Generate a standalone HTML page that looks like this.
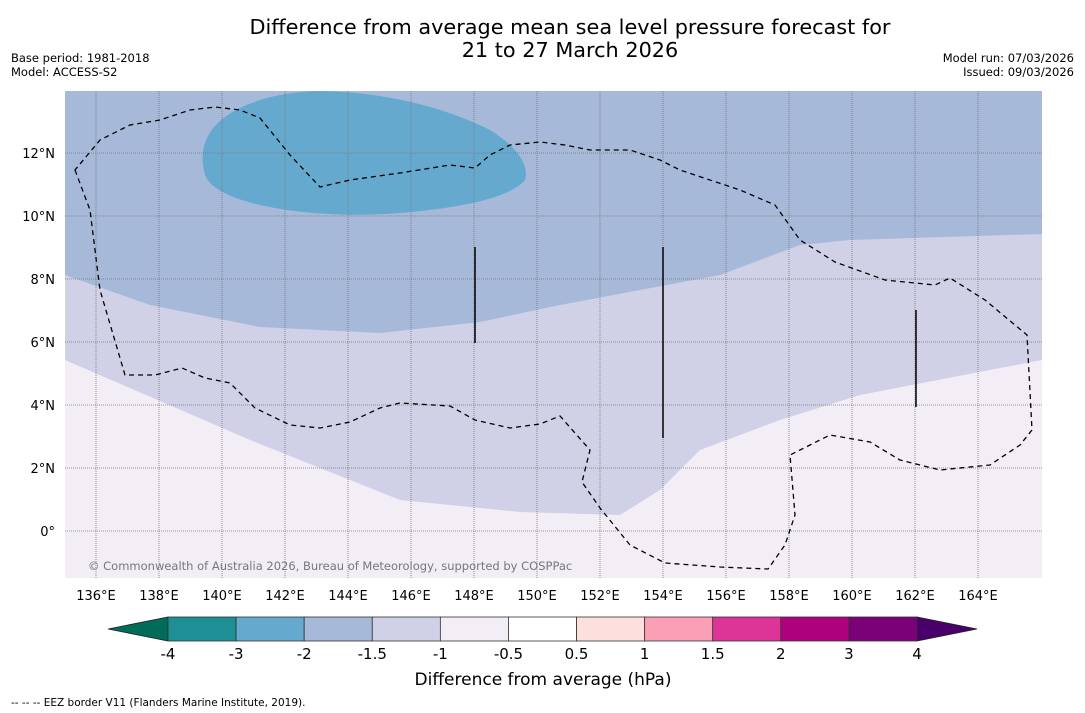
<!DOCTYPE html>
<html><head><meta charset="utf-8"><style>
body{margin:0;background:#fff;width:1085px;height:713px;overflow:hidden;font-family:"DejaVu Sans","Liberation Sans",sans-serif;}
svg{position:absolute;left:0;top:0}
</style></head><body>
<svg id="s" width="1085" height="713">
<text x="570" y="34" font-size="20.8" text-anchor="middle">Difference from average mean sea level pressure forecast for</text>
<text x="570" y="57" font-size="20.8" text-anchor="middle">21 to 27 March 2026</text>
<text x="11" y="62" font-size="11.5">Base period: 1981-2018</text>
<text x="11" y="76" font-size="11.5">Model: ACCESS-S2</text>
<text x="1074" y="62" font-size="11.5" text-anchor="end">Model run: 07/03/2026</text>
<text x="1074" y="76" font-size="11.5" text-anchor="end">Issued: 09/03/2026</text>
<defs><clipPath id="mc"><rect x="65" y="91" width="977" height="487"/></clipPath></defs>
<g clip-path="url(#mc)" id="map">
<rect x="65" y="91" width="977" height="487" fill="#f3eef6"/>
<path d="M40,355 L65,360 L250,440 L400,500 L520,512 L620,515 L660,490 L700,450 L780,420 L860,395 L1042,360 L1060,360 L1060,80 L40,80Z" fill="#d0d1e6"/>
<path d="M40,270 L65,275 L150,305 L260,327 L380,333 L480,322 L560,305 L640,290 L720,275 L800,245 L850,240 L1042,234 L1060,234 L1060,80 L40,80Z" fill="#a6b9d9"/>
<path d="M205,175 C198,150 205,125 240,108 C265,96 290,92 320,91 C380,92 440,105 490,130 C515,145 530,165 525,180 C510,198 460,208 400,213 C350,217 300,214 260,205 C230,198 210,188 205,175Z" fill="#65a9cf"/>
<g id="grid"></g>
<path d="M75,170 L90,210 L100,290 L125,375 L155,375 L182,368 L205,378 L230,383 L255,408 L290,425 L320,428 L350,422 L380,408 L400,403 L450,406 L475,420 L510,428 L540,424 L560,416 L590,450 L582,482 L600,508 L630,545 L665,563 L720,567 L768,569 L785,545 L795,515 L790,455 L830,435 L870,442 L900,460 L940,470 L990,465 L1020,445 L1032,430 L1027,335 L985,300 L950,278 L935,285 L885,280 L835,262 L800,240 L775,205 L740,190 L680,170 L660,160 L630,150 L590,150 L565,145 L540,142 L510,145 L490,155 L475,168 L450,165 L400,173 L350,180 L320,187 L290,155 L260,118 L240,110 L215,107 L190,110 L160,120 L130,125 L100,140 Z" fill="none" stroke="#000" stroke-width="1.3" stroke-dasharray="5,4"/>
<line x1="475" y1="247" x2="475" y2="343" stroke="#000" stroke-width="1.5"/>
<line x1="663" y1="247" x2="663" y2="438" stroke="#000" stroke-width="1.5"/>
<line x1="916" y1="310" x2="916" y2="407" stroke="#000" stroke-width="1.5"/>
<text x="88" y="570" font-size="11.5" fill="#777">© Commonwealth of Australia 2026, Bureau of Meteorology, supported by COSPPac</text>
</g>
<g id="axes"></g>
<g id="cbar"></g>
<text x="543" y="685" font-size="17" text-anchor="middle">Difference from average (hPa)</text>
<text x="11" y="706" font-size="10.5">--  --  -- EEZ border V11 (Flanders Marine Institute, 2019).</text>
</svg>
<script>
const lonTicks=[136,138,140,142,144,146,148,150,152,154,156,158,160,162,164];
const latTicks=[0,2,4,6,8,10,12];
const cbLevels=["-4","-3","-2","-1.5","-1","-0.5","0.5","1","1.5","2","3","4"];
const cbColors=["#1f8f96","#65a9cf","#a6b9d9","#d0d1e6","#f3eef6","#ffffff","#fde0dd","#fa9fb5","#dd3497","#ae017e","#7a0177"];
const NS="http://www.w3.org/2000/svg";
const xs=lon=>96+(lon-136)*31.5, ys=lat=>531-lat*31.5;
function mk(t,a,p){const e=document.createElementNS(NS,t);for(const k in a)e.setAttribute(k,a[k]);p.appendChild(e);return e;}
const g=document.getElementById('grid'),ax=document.getElementById('axes');
lonTicks.forEach(l=>{const x=xs(l);
const ln=mk('line',{x1:x,y1:91,x2:x,y2:578,stroke:'#777','stroke-width':0.8,'stroke-dasharray':'1,1'},g);


const t=mk('text',{x:x,y:600,'font-size':13,'text-anchor':'middle'},ax);t.textContent=l+'°E';

});
latTicks.forEach(l=>{const y=ys(l);
const ln=mk('line',{x1:65,y1:y,x2:1042,y2:y,stroke:'#777','stroke-width':0.8,'stroke-dasharray':'1,1'},g);


const t=mk('text',{x:55,y:y+5,'font-size':13,'text-anchor':'end'},ax);t.textContent=l===0?'0°':l+'°N';

});
const cb=document.getElementById('cbar');const x0=168,x1=917,y0=617,h=24,n=cbColors.length,w=(x1-x0)/n;
const lt=mk('polygon',{points:`${x0},${y0} ${x0},${y0+h} 108,${y0+h/2}`,fill:'#016c59',stroke:'#222','stroke-width':0.8},cb);


const rt=mk('polygon',{points:`${x1},${y0} ${x1},${y0+h} 977,${y0+h/2}`,fill:'#49006a',stroke:'#222','stroke-width':0.8},cb);


cbColors.forEach((c,i)=>{const r=mk('rect',{x:x0+i*w,y:y0,width:w,height:h,fill:c,stroke:'#333','stroke-width':0.8},cb);

});
cbLevels.forEach((l,i)=>{const t=mk('text',{x:x0+i*w,y:659,'font-size':15,'text-anchor':'middle'},cb);t.textContent=l;

});
</script>
</body></html>
